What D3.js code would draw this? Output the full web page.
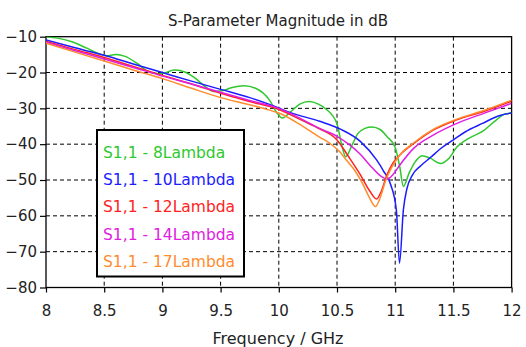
<!DOCTYPE html>
<html><head><meta charset="utf-8">
<script src="https://cdn.jsdelivr.net/npm/d3@7"></script>
<style>html,body{margin:0;padding:0;background:#fff;}svg{display:block;}</style>
</head><body><svg id="chart" width="526" height="347"></svg>
<script>
const title = "S-Parameter Magnitude in dB";
const xLabel = "Frequency / GHz";
const xTicks = [8, 8.5, 9, 9.5, 10, 10.5, 11, 11.5, 12];
const yTicks = [-10, -20, -30, -40, -50, -60, -70, -80];
const seriesNames = ["S1,1 - 8Lambda", "S1,1 - 10Lambda", "S1,1 - 12Lambda", "S1,1 - 14Lambda", "S1,1 - 17Lambda"];
const seriesColors = ["#2ec82e", "#1c1cff", "#ff2222", "#e020e0", "#ff8c2e"];

const green8 = [[8.0,-10.0],[8.1,-10.4],[8.23,-11.5],[8.35,-13.2],[8.45,-14.7],[8.52,-15.3],[8.6,-15.0],[8.68,-15.5],[8.78,-17.4],[8.87,-19.6],[8.95,-20.3],[9.02,-20.1],[9.1,-19.3],[9.18,-19.7],[9.27,-21.3],[9.36,-23.7],[9.44,-25.3],[9.52,-25.0],[9.6,-24.2],[9.7,-23.7],[9.8,-24.4],[9.92,-27.7],[9.99,-31.5],[10.03,-32.7],[10.1,-31.0],[10.18,-28.8],[10.26,-28.1],[10.34,-28.8],[10.41,-30.3],[10.5,-34.3],[10.54,-40.2],[10.575,-43.5],[10.63,-40.2],[10.68,-37.0],[10.74,-35.6],[10.8,-35.2],[10.87,-35.9],[10.93,-37.9],[11.0,-40.9],[11.04,-46.5],[11.07,-51.8],[11.12,-48.0],[11.17,-45.0],[11.23,-43.2],[11.3,-43.9],[11.39,-45.4],[11.46,-44.0],[11.53,-40.8],[11.62,-38.6],[11.76,-36.2],[11.87,-33.2],[11.94,-31.6],[12.0,-31.3]];
const blue10 = [[8.0,-10.9],[8.25,-13.1],[8.5,-15.2],[8.75,-17.6],[9.0,-20.0],[9.25,-22.4],[9.5,-24.7],[9.75,-27.0],[9.92,-28.9],[10.1,-31.2],[10.35,-33.6],[10.53,-35.8],[10.7,-39.2],[10.84,-44.4],[10.9,-47.5],[10.96,-51.2],[11.01,-58.4],[11.037,-73.2],[11.07,-58.4],[11.1,-52.5],[11.15,-48.5],[11.22,-46.0],[11.3,-43.8],[11.4,-41.0],[11.5,-38.8],[11.6,-36.6],[11.75,-34.2],[11.9,-32.0],[12.0,-31.3]];
const red12 = [[8.0,-11.3],[8.25,-13.6],[8.5,-15.8],[8.75,-18.3],[9.0,-20.8],[9.25,-23.2],[9.5,-25.8],[9.75,-28.1],[10.0,-30.3],[10.21,-33.5],[10.35,-35.7],[10.5,-38.8],[10.6,-43.5],[10.7,-48.5],[10.78,-53.0],[10.84,-55.3],[10.88,-53.2],[10.93,-48.5],[10.98,-45.3],[11.04,-43.0],[11.16,-39.8],[11.33,-36.0],[11.53,-33.2],[11.76,-30.9],[12.0,-28.0]];
const magenta14 = [[8.0,-11.5],[8.25,-13.9],[8.5,-16.2],[8.75,-18.6],[9.0,-21.0],[9.25,-23.2],[9.5,-25.5],[9.75,-27.8],[10.0,-30.0],[10.21,-33.2],[10.35,-35.6],[10.5,-37.8],[10.6,-40.0],[10.7,-42.8],[10.8,-46.5],[10.88,-49.0],[10.93,-49.8],[10.98,-48.5],[11.04,-45.8],[11.16,-41.1],[11.33,-37.4],[11.53,-34.2],[11.76,-31.4],[12.0,-28.6]];
const orange17 = [[8.0,-11.8],[8.25,-14.3],[8.5,-16.8],[8.75,-19.3],[9.0,-21.7],[9.25,-24.4],[9.5,-27.0],[9.75,-29.0],[9.92,-30.5],[10.0,-31.3],[10.21,-35.1],[10.35,-38.0],[10.44,-39.8],[10.52,-42.0],[10.58,-44.4],[10.65,-47.2],[10.72,-51.0],[10.78,-55.0],[10.83,-57.4],[10.87,-55.0],[10.92,-50.0],[10.97,-46.5],[11.04,-43.0],[11.16,-39.6],[11.33,-35.8],[11.53,-33.0],[11.76,-30.6],[12.0,-27.7]];
const seriesData = [green8, blue10, red12, magenta14, orange17];

const svg = d3.select("#chart");
const font = "DejaVu Sans, Verdana, sans-serif";
const L = 46, R = 511.6, T = 36.7, B = 287.5;
const x = d3.scaleLinear().domain([8, 12]).range([L, R]);
const y = d3.scaleLinear().domain([-80, -10]).range([B, T]);

// grid
const grid = svg.append("g");
grid.selectAll("line.v").data(xTicks.slice(1, -1)).join("line")
  .attr("x1", d => x(d)).attr("x2", d => x(d)).attr("y1", T).attr("y2", B)
  .attr("stroke", "#000").attr("stroke-width", 1).attr("stroke-dasharray", "4,3");
grid.selectAll("line.h").data(yTicks.slice(1, -1)).join("line")
  .attr("y1", d => y(d)).attr("y2", d => y(d)).attr("x1", L).attr("x2", R)
  .attr("stroke", "#000").attr("stroke-width", 1).attr("stroke-dasharray", "4,3");

// axes
const xAxis = d3.axisBottom(x).tickValues(xTicks).tickSize(5).tickPadding(13).tickFormat(d3.format("~g"));
const gx = svg.append("g").attr("transform", `translate(0,${B})`).call(xAxis);
const yAxis = d3.axisLeft(y).tickValues(yTicks).tickSize(6).tickPadding(3).tickFormat(d3.format("~g"));
const gy = svg.append("g").attr("transform", `translate(${L},0)`).call(yAxis);
[gx, gy].forEach(g => {
  g.select(".domain").remove();
  g.selectAll(".tick line").attr("stroke", "#000").attr("stroke-width", 1.2);
  g.selectAll(".tick text").attr("font-family", font).attr("font-size", 15).attr("fill", "#222");
});

// frame
svg.append("rect").attr("x", L).attr("y", T).attr("width", R - L).attr("height", B - T)
  .attr("fill", "none").attr("stroke", "#000").attr("stroke-width", 1.3);

// curves
svg.append("clipPath").attr("id", "clip").append("rect")
  .attr("x", L).attr("y", T).attr("width", R - L).attr("height", B - T);
const line = d3.line().x(d => x(d[0])).y(d => y(d[1])).curve(d3.curveMonotoneX);
svg.append("g").attr("clip-path", "url(#clip)").selectAll("path").data(seriesData).join("path")
  .attr("d", line).attr("fill", "none")
  .attr("stroke", (d, i) => seriesColors[i]).attr("stroke-width", 1.5);

// legend
const lg = svg.append("g");
lg.append("rect").attr("x", 97).attr("y", 130).attr("width", 147).attr("height", 146.5)
  .attr("fill", "#fff").attr("stroke", "#000").attr("stroke-width", 2);
lg.selectAll("text").data(seriesNames).join("text")
  .attr("x", 103).attr("y", (d, i) => 152 + i * 27.4).attr("dy", "0.36em")
  .attr("font-family", font).attr("font-size", 15.5)
  .attr("fill", (d, i) => seriesColors[i]).text(d => d);

// title and label
svg.append("text").attr("x", 278).attr("y", 21).attr("dy", "0.36em").attr("text-anchor", "middle")
  .attr("font-family", font).attr("font-size", 15).attr("fill", "#222").text(title);
svg.append("text").attr("x", 278).attr("y", 338).attr("dy", "0.36em").attr("text-anchor", "middle")
  .attr("font-family", font).attr("font-size", 16).attr("fill", "#222").text(xLabel);
</script></body></html>
